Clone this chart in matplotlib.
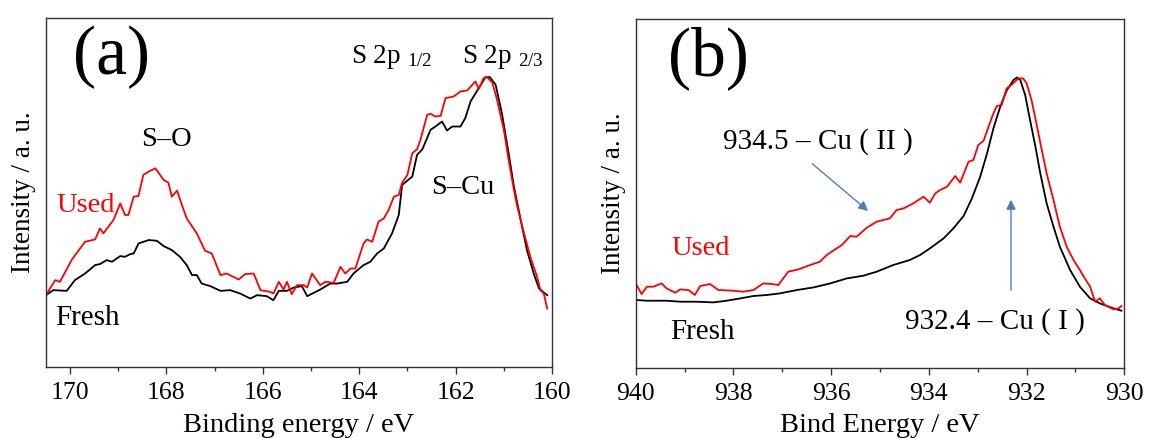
import matplotlib
matplotlib.use("Agg")
import matplotlib.pyplot as plt
from matplotlib.ticker import MultipleLocator

plt.rcParams['font.family'] = ['Liberation Serif', 'DejaVu Serif']
plt.rcParams['mathtext.fontset'] = 'custom'
plt.rcParams['mathtext.rm'] = 'Liberation Serif'
plt.rcParams['mathtext.it'] = 'Liberation Serif:italic'

# ---------------- Panel (a): S 2p ----------------
s_used_E = [170.50, 170.31, 170.21, 169.97, 169.69, 169.48, 169.38, 169.31, 169.10, 168.96,
            168.86, 168.79, 168.68, 168.58, 168.48, 168.37, 168.23, 168.06, 167.96, 167.89,
            167.78, 167.68, 167.58, 167.37, 167.20, 167.06, 166.88, 166.75, 166.50, 166.37,
            166.19, 166.05, 165.85, 165.78, 165.67, 165.57, 165.50, 165.40, 165.29, 165.15,
            165.08, 164.98, 164.81, 164.70, 164.53, 164.39, 164.29, 164.18, 164.08, 163.91,
            163.84, 163.73, 163.60, 163.49, 163.39, 163.28, 163.18, 163.11, 163.00, 162.90,
            162.80, 162.73, 162.59, 162.52, 162.42, 162.31, 162.21, 162.04, 161.90, 161.76,
            161.59, 161.52, 161.42, 161.35, 161.24, 161.14, 161.00, 160.90, 160.79, 160.72,
            160.58, 160.45, 160.31, 160.24, 160.17, 160.10]
s_used_I = [7.17, 8.67, 8.50, 10.67, 12.50, 12.73, 13.83, 13.33, 14.67, 16.33,
            15.17, 15.17, 17.00, 17.07, 19.17, 19.50, 19.83, 18.67, 18.40, 17.00,
            17.60, 16.17, 14.83, 13.33, 11.60, 11.33, 9.17, 9.33, 8.73, 9.27,
            9.33, 7.67, 7.50, 7.33, 8.50, 7.73, 8.50, 7.27, 8.17, 8.17,
            7.93, 9.33, 8.17, 8.50, 8.40, 10.00, 9.33, 9.83, 9.83, 12.33,
            12.73, 12.50, 14.50, 14.83, 15.67, 17.00, 17.17, 18.40, 19.17, 21.33,
            21.73, 22.67, 25.17, 25.27, 25.00, 25.07, 26.83, 27.00, 27.50, 27.60,
            28.50, 27.73, 28.83, 28.93, 28.40, 26.67, 23.67, 20.67, 17.67, 16.00,
            13.33, 11.00, 9.00, 7.67, 7.33, 5.83]

s_fresh_E = [170.50, 170.35, 170.07, 169.90, 169.69, 169.48, 169.38, 169.24, 169.13, 168.96,
             168.86, 168.75, 168.68, 168.58, 168.37, 168.20, 168.06, 167.89, 167.72, 167.58,
             167.47, 167.37, 167.27, 167.09, 166.88, 166.68, 166.47, 166.26, 166.12, 165.92,
             165.78, 165.67, 165.50, 165.36, 165.19, 165.08, 164.81, 164.60, 164.46, 164.25,
             164.12, 163.91, 163.77, 163.63, 163.49, 163.32, 163.18, 163.11, 162.90, 162.80,
             162.69, 162.52, 162.42, 162.28, 162.18, 162.07, 161.90, 161.80, 161.69, 161.52,
             161.38, 161.29, 161.17, 161.04, 160.90, 160.79, 160.65, 160.52, 160.38, 160.27,
             160.10]
s_fresh_I = [7.17, 7.67, 7.60, 8.67, 9.33, 10.17, 10.27, 10.67, 10.50, 11.07,
             11.00, 11.27, 11.33, 12.33, 12.67, 12.60, 12.07, 11.67, 11.00, 10.17,
             9.17, 9.17, 8.33, 8.07, 7.60, 7.67, 7.33, 6.83, 7.17, 7.07,
             6.67, 7.60, 7.60, 7.93, 8.07, 7.07, 7.73, 8.33, 8.33, 8.50,
             9.33, 10.17, 10.50, 11.33, 11.83, 13.33, 15.17, 18.17, 19.00, 21.17,
             21.73, 23.67, 24.00, 24.50, 23.60, 24.00, 24.00, 24.83, 26.50, 27.83,
             28.93, 28.93, 28.17, 25.33, 21.33, 18.00, 14.67, 11.67, 9.33, 7.83,
             7.17]

# ---------------- Panel (b): Cu 2p ----------------
cu_used_E = [940.00, 939.88, 939.77, 939.64, 939.47, 939.37, 939.19, 939.09, 938.92, 938.79,
             938.68, 938.48, 938.31, 938.00, 937.80, 937.59, 937.39, 937.22, 937.08, 936.88,
             936.67, 936.43, 936.23, 936.09, 935.92, 935.78, 935.61, 935.48, 935.27, 935.07,
             934.80, 934.66, 934.52, 934.32, 934.11, 933.98, 933.87, 933.77, 933.63, 933.46,
             933.36, 933.19, 933.09, 932.99, 932.88, 932.78, 932.68, 932.61, 932.51, 932.41,
             932.31, 932.17, 932.07, 932.00, 931.90, 931.80, 931.69, 931.59, 931.45, 931.32,
             931.18, 931.04, 930.91, 930.81, 930.70, 930.60, 930.50, 930.40, 930.22, 930.12,
             930.06]
cu_used_I = [8.43, 7.37, 8.10, 8.10, 8.43, 7.93, 7.50, 7.83, 7.77, 7.27,
             8.17, 8.37, 7.77, 7.70, 7.60, 7.77, 8.43, 8.37, 8.27, 9.60,
             9.83, 10.27, 10.60, 11.27, 11.83, 12.27, 13.17, 13.10, 14.00, 14.60,
             14.93, 15.77, 15.93, 16.43, 17.10, 16.50, 17.43, 17.77, 18.10, 19.17,
             18.50, 20.60, 20.77, 22.27, 22.70, 24.10, 25.43, 26.17, 26.27, 27.93,
             28.27, 28.93, 28.93, 28.43, 26.77, 24.43, 21.77, 19.43, 16.77, 14.10,
             12.10, 10.77, 9.77, 8.93, 8.10, 6.60, 6.93, 6.27, 5.83, 5.93,
             6.17]

cu_fresh_E = [940.00, 939.77, 939.37, 939.09, 938.75, 938.41, 938.14, 937.86, 937.59, 937.32,
              937.05, 936.70, 936.36, 936.02, 935.68, 935.34, 935.07, 934.73, 934.39, 934.18,
              933.98, 933.70, 933.50, 933.29, 933.12, 932.95, 932.81, 932.68, 932.54, 932.41,
              932.27, 932.20, 932.13, 932.03, 931.93, 931.82, 931.72, 931.59, 931.45, 931.32,
              931.11, 930.91, 930.70, 930.50, 930.22, 930.06]
cu_fresh_I = [6.77, 6.70, 6.70, 6.60, 6.60, 6.53, 6.70, 6.93, 7.17, 7.27,
              7.43, 7.77, 8.03, 8.43, 8.93, 9.20, 9.60, 10.27, 10.77, 11.27,
              11.93, 12.93, 13.93, 15.17, 16.93, 19.10, 21.43, 23.93, 26.10, 27.70,
              28.77, 29.03, 28.77, 27.27, 24.77, 22.10, 19.43, 16.43, 14.10, 12.10,
              9.77, 8.10, 6.93, 6.43, 5.93, 5.70]

TICK_FS = 18.5
LABEL_FS = 20.5
TEXT_FS = 20.5
ARROW_C = '#4a7ebb'

fig = plt.figure(figsize=(11.5, 4.38), dpi=100)
axa = fig.add_axes([0.0400, 0.1621, 0.4400, 0.7968])
axb = fig.add_axes([0.5528, 0.1605, 0.4249, 0.7961])

def style(ax, xlim, ylim, major, minor):
    ax.set_xlim(*xlim)
    ax.set_ylim(*ylim)
    ax.xaxis.set_major_locator(MultipleLocator(major))
    ax.xaxis.set_minor_locator(MultipleLocator(minor))
    ax.set_yticks([])
    ax.tick_params(axis='x', which='major', direction='out', length=5, width=1,
                   labelsize=TICK_FS, pad=6, color='#333333')
    ax.tick_params(axis='x', which='minor', direction='out', length=3, width=1,
                   color='#333333')
    for s in ax.spines.values():
        s.set_linewidth(1.0)
        s.set_color('#333333')
    ax.set_ylabel('Intensity / a. u.', fontsize=19.5, labelpad=7)

# Panel (a)
axa.plot(s_fresh_E, s_fresh_I, color='black', lw=1.3)
axa.plot(s_used_E, s_used_I, color='#ff0000', lw=1.3)
style(axa, (170.5, 160.0), (0, 34.83), 2, 1)
axa.set_xlabel('Binding energy / eV', fontsize=LABEL_FS, labelpad=6)
axa.text(169.15, 30.9, '(a)', fontsize=50, ha='center', va='center')
axa.text(168.0, 22.7, 'S–O', fontsize=TEXT_FS, ha='center', va='center')
axa.text(163.33, 30.37, 'S 2p $_{1/2}$', fontsize=19.5, ha='center', va='baseline')
axa.text(161.03, 30.37, 'S 2p $_{2/3}$', fontsize=19.5, ha='center', va='baseline')
axa.text(161.86, 17.87, 'S–Cu', fontsize=TEXT_FS, ha='center', va='center')
axa.text(170.29, 16.07, 'Used', fontsize=TEXT_FS, ha='left', va='center', color='#ff0000')
axa.text(170.31, 4.87, 'Fresh', fontsize=21, ha='left', va='center', color='black')

# Panel (b)
axb.plot(cu_fresh_E, cu_fresh_I, color='black', lw=1.3)
axb.plot(cu_used_E, cu_used_I, color='#ff0000', lw=1.3)
style(axb, (940, 930), (0, 34.87), 2, 1)
axb.set_xlabel('Bind Energy / eV', fontsize=LABEL_FS, labelpad=6)
axb.text(938.52, 31.0, '(b)', fontsize=50, ha='center', va='center')
axb.text(938.21, 22.57, '934.5 – Cu ( II )', fontsize=21, ha='left', va='center')
axb.annotate('', xy=(935.20, 15.5), xytext=(936.43, 20.57),
             arrowprops=dict(arrowstyle='-|>', color=ARROW_C, lw=1.0, mutation_scale=14))
axb.text(939.26, 11.97, 'Used', fontsize=TEXT_FS, ha='left', va='center', color='#ff0000')
axb.text(939.30, 3.57, 'Fresh', fontsize=21, ha='left', va='center', color='black')
axb.text(934.49, 4.57, '932.4 – Cu ( I )', fontsize=21, ha='left', va='center')
axb.annotate('', xy=(932.32, 17.07), xytext=(932.32, 7.47),
             arrowprops=dict(arrowstyle='-|>', color=ARROW_C, lw=1.0, mutation_scale=14))

fig.savefig('out.png', dpi=100)
